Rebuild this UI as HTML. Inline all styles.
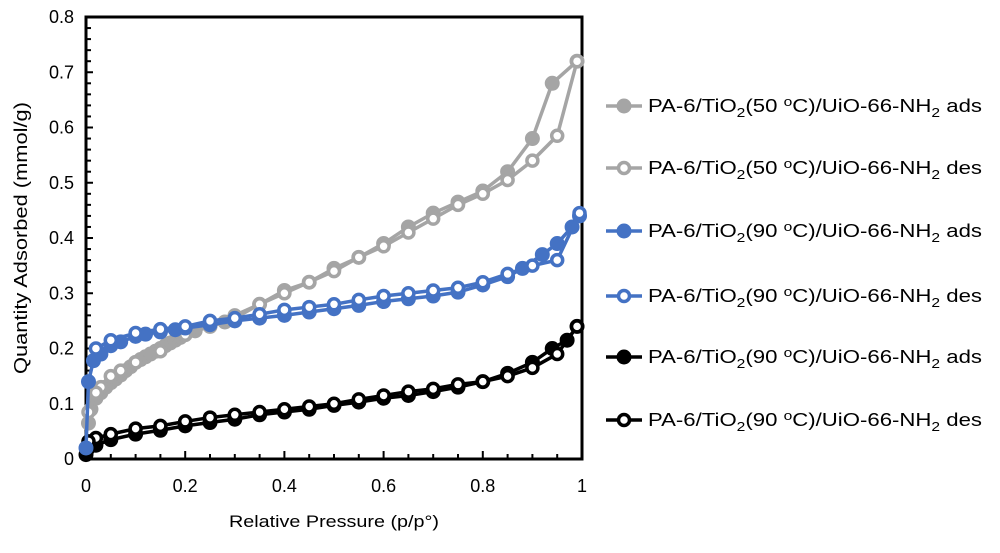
<!DOCTYPE html>
<html><head><meta charset="utf-8"><style>
body{margin:0;background:#fff;}
svg text{font-family:"Liberation Sans",sans-serif;fill:#000;}
</style></head><body>
<svg id="chart" width="1000" height="548" xmlns="http://www.w3.org/2000/svg">
<g id="grid"></g><g id="series"></g><g id="legend"></g>
</svg>
<script>
const xTicks=[0,0.2,0.4,0.6,0.8,1];
const yTicks=[0,0.1,0.2,0.3,0.4,0.5,0.6,0.7,0.8];
const g50adsP=[0.005,0.01,0.02,0.03,0.04,0.05,0.06,0.07,0.08,0.09,0.1,0.11,0.12,0.13,0.14,0.15,0.16,0.17,0.18,0.19,0.2,0.22,0.25,0.28,0.3,0.35,0.4,0.45,0.5,0.55,0.6,0.65,0.7,0.75,0.8,0.85,0.9,0.94,0.99];
const g50adsQ=[0.065,0.09,0.11,0.12,0.13,0.138,0.145,0.152,0.16,0.167,0.175,0.18,0.185,0.19,0.195,0.2,0.205,0.21,0.215,0.22,0.225,0.232,0.24,0.248,0.255,0.28,0.305,0.32,0.345,0.365,0.39,0.42,0.445,0.465,0.485,0.52,0.58,0.68,0.72];
const g50desP=[0.99,0.95,0.9,0.85,0.8,0.75,0.7,0.65,0.6,0.55,0.5,0.45,0.4,0.35,0.3,0.25,0.2,0.15,0.1,0.07,0.05,0.03,0.02,0.005];
const g50desQ=[0.72,0.585,0.54,0.505,0.48,0.46,0.435,0.41,0.385,0.365,0.34,0.32,0.3,0.28,0.26,0.24,0.225,0.195,0.175,0.16,0.15,0.13,0.12,0.085];
const b90adsP=[0,0.005,0.015,0.03,0.05,0.07,0.1,0.12,0.15,0.18,0.2,0.25,0.3,0.35,0.4,0.45,0.5,0.55,0.6,0.65,0.7,0.75,0.8,0.85,0.88,0.92,0.95,0.98,0.995];
const b90adsQ=[0.02,0.14,0.178,0.19,0.205,0.212,0.222,0.226,0.23,0.234,0.237,0.243,0.25,0.255,0.26,0.266,0.272,0.278,0.285,0.29,0.295,0.302,0.315,0.33,0.345,0.37,0.39,0.42,0.44];
const b90desP=[0.995,0.95,0.9,0.85,0.8,0.75,0.7,0.65,0.6,0.55,0.5,0.45,0.4,0.35,0.3,0.25,0.2,0.15,0.1,0.05,0.02];
const b90desQ=[0.445,0.36,0.35,0.335,0.32,0.31,0.305,0.3,0.295,0.288,0.28,0.275,0.27,0.262,0.255,0.25,0.24,0.235,0.228,0.215,0.2];
const k90adsP=[0,0.005,0.02,0.05,0.1,0.15,0.2,0.25,0.3,0.35,0.4,0.45,0.5,0.55,0.6,0.65,0.7,0.75,0.8,0.85,0.9,0.94,0.97,0.99];
const k90adsQ=[0.008,0.02,0.025,0.035,0.045,0.052,0.06,0.066,0.072,0.08,0.085,0.09,0.097,0.103,0.11,0.115,0.122,0.13,0.14,0.155,0.175,0.2,0.215,0.24];
const k90desP=[0.99,0.95,0.9,0.85,0.8,0.75,0.7,0.65,0.6,0.55,0.5,0.45,0.4,0.35,0.3,0.25,0.2,0.15,0.1,0.05,0.02,0.005];
const k90desQ=[0.24,0.19,0.165,0.15,0.14,0.135,0.127,0.122,0.115,0.108,0.1,0.095,0.09,0.085,0.08,0.075,0.068,0.06,0.055,0.045,0.038,0.032];
const legendLabels=["ads","des","ads","des","ads","des"];
const legendTemps=["50","50","90","90","90","90"];

const NS="http://www.w3.org/2000/svg";
const X0=86,X1=582,Y0=459,Y1=17;
const xs=v=>X0+v*(X1-X0);
const ys=v=>Y0-v/0.8*(Y0-Y1);
function mk(t,a,p){const e=document.createElementNS(NS,t);for(const k in a)e.setAttribute(k,a[k]);p.appendChild(e);return e;}
const grid=document.getElementById('grid'),ser=document.getElementById('series'),leg=document.getElementById('legend');

const frame=mk('rect',{x:X0,y:Y1,width:X1-X0,height:Y0-Y1,fill:'none',stroke:'#000','stroke-width':3},grid);

for(let i=0;i<=40;i++){const v=i*0.02;const y=ys(v);const major=i%5===0;
 const t=mk('line',{x1:X0,x2:X0+(major?7:5),y1:y,y2:y,stroke:'#000','stroke-width':2},grid);
 }
for(let i=0;i<=20;i++){const v=i*0.05;const x=xs(v);const major=i%4===0;
 const t=mk('line',{x1:x,x2:x,y1:Y0,y2:Y0-(major?8:5),stroke:'#000','stroke-width':2},grid);
 }
yTicks.forEach(v=>{const t=mk('text',{x:X0-12,y:ys(v)+6,'text-anchor':'end','font-size':18},grid);t.textContent=v===0?'0':v.toFixed(1);
 });
xTicks.forEach(v=>{const t=mk('text',{x:xs(v),y:Y0+33,'text-anchor':'middle','font-size':18},grid);t.textContent=v===0||v===1?String(v):v.toFixed(1);
 });
let t=mk('text',{x:(X0+X1)/2,y:527,'text-anchor':'middle','font-size':17,textLength:210,lengthAdjust:'spacingAndGlyphs'},grid);t.textContent='Relative Pressure (p/p°)';

t=mk('text',{x:0,y:0,'text-anchor':'middle','font-size':18,textLength:272,lengthAdjust:'spacingAndGlyphs',transform:`translate(27,${(Y0+Y1)/2}) rotate(-90)`},grid);t.textContent='Quantity Adsorbed (mmol/g)';


const series=[
 {P:g50adsP,Q:g50adsQ,c:'#a5a5a5',fill:true,n:'series-50c-ads'},
 {P:g50desP,Q:g50desQ,c:'#a5a5a5',fill:false,n:'series-50c-des'},
 {P:k90adsP,Q:k90adsQ,c:'#000',fill:true,n:'series-90c-ads-black'},
 {P:k90desP,Q:k90desQ,c:'#000',fill:false,n:'series-90c-des-black'},
 {P:b90adsP,Q:b90adsQ,c:'#4472c4',fill:true,n:'series-90c-ads-blue'},
 {P:b90desP,Q:b90desQ,c:'#4472c4',fill:false,n:'series-90c-des-blue'}];
series.forEach(s=>{const g=mk('g',{},ser);
 const pl=mk('polyline',{points:s.P.map((p,i)=>xs(p)+','+ys(s.Q[i])).join(' '),fill:'none',stroke:s.c,'stroke-width':3.5},g);
 
 s.P.forEach((p,i)=>{const c=mk('circle',{cx:xs(p),cy:ys(s.Q[i]),r:s.fill?7:5.5,fill:s.fill?s.c:'#fff',stroke:s.c,'stroke-width':s.fill?1:3.5},g);
  });});

const legColors=['#a5a5a5','#a5a5a5','#4472c4','#4472c4','#000','#000'];
const legY=[106,168,231,296,357,420];
legendLabels.forEach((lab,i)=>{const g=mk('g',{},leg);
 const y=legY[i],c=legColors[i],f=i%2===0;
 mk('line',{x1:606,x2:642,y1:y,y2:y,stroke:c,'stroke-width':3.5},g);
 mk('circle',{cx:624,cy:y,r:f?7:5.5,fill:f?c:'#fff',stroke:c,'stroke-width':f?1:3.5},g);
 const tx=mk('text',{x:648,y:y+6,'font-size':18.5,textLength:334,lengthAdjust:'spacingAndGlyphs'},g);
 tx.innerHTML=`PA-6/TiO<tspan font-size="13" dy="5">2</tspan><tspan dy="-5">(${legendTemps[i]} </tspan><tspan font-size="13" dy="-6">o</tspan><tspan dy="6">C)/UiO-66-NH</tspan><tspan font-size="13" dy="5">2</tspan><tspan dy="-5"> ${lab}</tspan>`;});
</script>
</body></html>
